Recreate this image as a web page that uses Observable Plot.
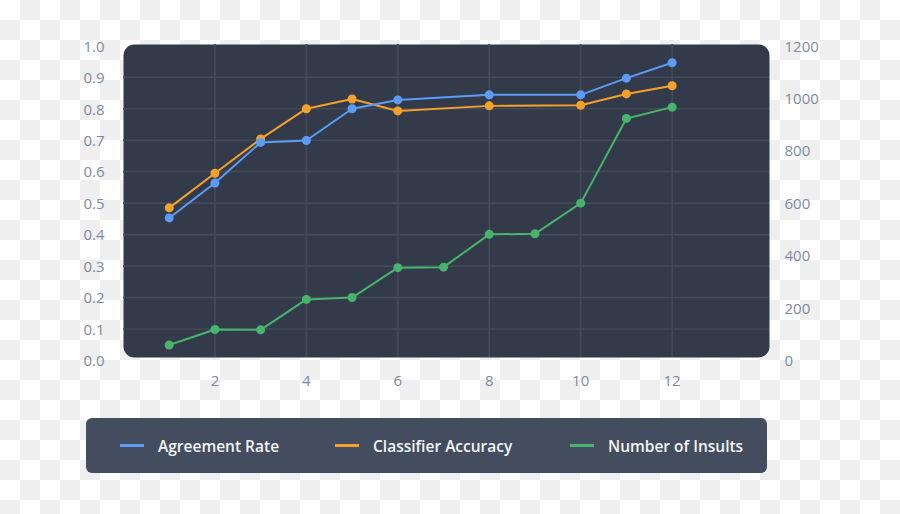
<!DOCTYPE html>
<html>
<head>
<meta charset="utf-8">
<script src="https://cdn.jsdelivr.net/npm/d3@7"></script>
<script src="https://cdn.jsdelivr.net/npm/@observablehq/plot@0.6"></script>
<style>
html, body { margin: 0; padding: 0; width: 900px; height: 514px; overflow: hidden; }
body {
  position: relative;
  background-color: #ffffff;
  background-image: conic-gradient(#efefef 25%, transparent 0 50%, #efefef 0 75%, transparent 0);
  background-size: 40px 40px;
  font-family: "Open Sans", sans-serif;
}
#chart { position: absolute; left: 0; top: 0; }
#legend {
  position: absolute; left: 86px; top: 418px; width: 681px; height: 55px;
  background: #434d5f; border-radius: 6px;
}
.item { position: absolute; top: 0; height: 55px; display: flex; align-items: center; color: #f2f4f7; font-size: 15.5px; font-weight: 600; }
.swatch { width: 24px; height: 3px; margin-right: 14px; }
</style>
</head>
<body>
<div id="chart"></div>
<div id="legend"></div>
<script>
// ---- data ----
const seriesNames = ["Agreement Rate", "Classifier Accuracy", "Number of Insults"];
const seriesColors = ["#5b9cf6", "#f6a02c", "#48b36c"];

const agreementX = [1, 2, 3, 4, 5, 6, 8, 10, 11, 12];
const agreement  = [0.453, 0.564, 0.693, 0.699, 0.800, 0.828, 0.844, 0.844, 0.897, 0.946];

const accuracyX = [1, 2, 3, 4, 5, 6, 8, 10, 11, 12];
const accuracy  = [0.485, 0.595, 0.704, 0.800, 0.831, 0.793, 0.809, 0.811, 0.847, 0.873];

const insultsX = [1, 2, 3, 4, 5, 6, 7, 8, 9, 10, 11, 12];
const insults  = [59, 118, 117, 233, 240, 354, 356, 481, 483, 600, 923, 966];

const xTicks = [2, 4, 6, 8, 10, 12];
const leftTicks = [0, 0.1, 0.2, 0.3, 0.4, 0.5, 0.6, 0.7, 0.8, 0.9, 1.0];
const gridTicks = [0.1, 0.2, 0.3, 0.4, 0.5, 0.6, 0.7, 0.8, 0.9];
const rightTicks = [0, 200, 400, 600, 800, 1000, 1200];
const rightMax = 1200;

// ---- build tables ----
const agreementData = agreementX.map((x, i) => ({x, y: agreement[i]}));
const accuracyData = accuracyX.map((x, i) => ({x, y: accuracy[i]}));
const insultsData = insultsX.map((x, i) => ({x, y: insults[i] / rightMax}));

const labelColor = "#7d8aa5";
const gridColor = "#434b5a";

const plot = Plot.plot({
  width: 900,
  height: 400,
  marginLeft: 123,
  marginRight: 131,
  marginTop: 44,
  marginBottom: 40,
  style: { background: "transparent", fontFamily: "'Open Sans', sans-serif", fontSize: "15px" },
  x: { domain: [0, 14.13], axis: null },
  y: { domain: [0, 1.004], axis: null },
  marks: [
    Plot.frame({ fill: "#333b4a", stroke: null, rx: 11, insetBottom: 3 }),
    Plot.gridY(gridTicks, { stroke: gridColor, strokeOpacity: 1, strokeWidth: 1.6 }),
    Plot.gridX(xTicks, { stroke: gridColor, strokeOpacity: 1, strokeWidth: 1.6, insetBottom: 3 }),
    Plot.axisY(leftTicks, { anchor: "left", tickSize: 0, tickPadding: 19, tickFormat: d3.format(".1f"), fill: labelColor, fontSize: 15, fontWeight: 500, dy: 1, label: null }),
    Plot.text(rightTicks, { y: d => d / rightMax, text: d => String(d), frameAnchor: "right", textAnchor: "start", dx: 15, dy: 1, fill: labelColor, fontSize: 15, fontWeight: 500 }),
    Plot.axisX(xTicks, { anchor: "bottom", tickSize: 0, tickPadding: 15, fill: labelColor, fontSize: 15, fontWeight: 500, label: null }),
    Plot.line(insultsData, { x: "x", y: "y", stroke: seriesColors[2], strokeWidth: 2 }),
    Plot.dot(insultsData, { x: "x", y: "y", r: 4.5, fill: seriesColors[2], stroke: null }),
    Plot.line(accuracyData, { x: "x", y: "y", stroke: seriesColors[1], strokeWidth: 2 }),
    Plot.dot(accuracyData, { x: "x", y: "y", r: 4.5, fill: seriesColors[1], stroke: null }),
    Plot.line(agreementData, { x: "x", y: "y", stroke: seriesColors[0], strokeWidth: 2 }),
    Plot.dot(agreementData, { x: "x", y: "y", r: 4.5, fill: seriesColors[0], stroke: null })
  ]
});
document.getElementById("chart").appendChild(plot);

// legend
const legend = document.getElementById("legend");
const itemLeft = [34, 249, 484];
seriesNames.forEach((name, i) => {
  const it = document.createElement("div");
  it.className = "item";
  it.style.left = itemLeft[i] + "px";
  const sw = document.createElement("span");
  sw.className = "swatch";
  sw.style.background = seriesColors[i];
  const tx = document.createElement("span");
  tx.textContent = name;
  it.appendChild(sw);
  it.appendChild(tx);
  legend.appendChild(it);
});
</script>
</body>
</html>
